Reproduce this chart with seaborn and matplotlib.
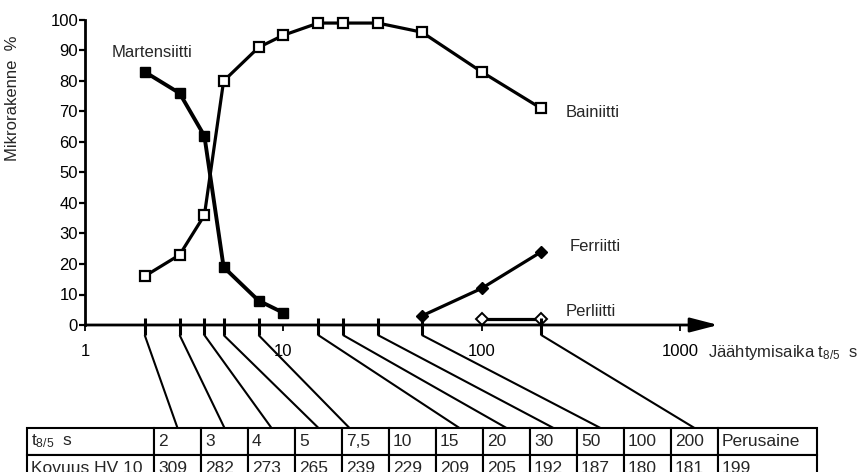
import matplotlib
matplotlib.use("Agg")
import matplotlib.pyplot as plt
import seaborn as sns

# Microstructure fractions (%) versus cooling time t8/5 (s)
t_mart = [2, 3, 4, 5, 7.5, 10]
martensiitti = [83, 76, 62, 19, 8, 4]
t_bain = [2, 3, 4, 5, 7.5, 10, 15, 20, 30, 50, 100, 200]
bainiitti = [16, 23, 36, 80, 91, 95, 99, 99, 99, 96, 83, 71]
t_ferr = [50, 100, 200]
ferriitti = [3, 12, 24]
t_perl = [100, 200]
perliitti = [2, 2]

# Hardness table
t_table = [2, 3, 4, 5, 7.5, 10, 15, 20, 30, 50, 100, 200]
t_labels = ["2", "3", "4", "5", "7,5", "10", "15", "20", "30", "50", "100", "200"]
kovuus = [309, 282, 273, 265, 239, 229, 209, 205, 192, 187, 180, 181]
perusaine = 199

x_ticks = [1, 10, 100, 1000]
x_ticklabels = ["1", "10", "100", "1000"]
y_ticks = [0, 10, 20, 30, 40, 50, 60, 70, 80, 90, 100]

sns.set_style("white")
plt.rcParams["font.family"] = ["Liberation Sans", "DejaVu Sans"]
plt.rcParams["mathtext.fontset"] = "custom"
plt.rcParams["mathtext.rm"] = "Liberation Sans"
plt.rcParams["mathtext.it"] = "Liberation Sans:italic"
plt.rcParams["mathtext.bf"] = "Liberation Sans:bold"

W, H = 864, 472
fig = plt.figure(figsize=(W / 100, H / 100), dpi=100)
ax = fig.add_axes([85 / W, (H - 325) / H, 630 / W, 305 / H])

line_kw = dict(ax=ax, color="black", clip_on=False, markeredgecolor="black")
sns.lineplot(x=t_bain, y=bainiitti, lw=2.3, marker="s", markersize=7,
             markerfacecolor="white", markeredgewidth=1.6, **line_kw)
sns.lineplot(x=t_mart, y=martensiitti, lw=2.8, marker="s", markersize=7.5,
             markerfacecolor="black", markeredgewidth=1.0, **line_kw)
sns.lineplot(x=t_ferr, y=ferriitti, lw=2.3, marker="D", markersize=6.5,
             markerfacecolor="black", markeredgewidth=1.0, **line_kw)
sns.lineplot(x=t_perl, y=perliitti, lw=2.3, marker="D", markersize=6.5,
             markerfacecolor="white", markeredgewidth=1.4, **line_kw)

ax.set_xscale("log")
ax.set_xlim(1, 1503)
ax.set_ylim(0, 100)
ax.set_xticks(x_ticks)
ax.set_xticklabels(x_ticklabels)
ax.set_xticks([], minor=True)
ax.set_yticks(y_ticks)
ax.tick_params(axis="y", direction="out", length=4, width=1.6, labelsize=12, pad=1,
               left=True, colors="black")
ax.tick_params(axis="x", direction="out", length=4, width=1.3, labelsize=12, pad=10,
               bottom=True, colors="black")
for side in ("top", "right", "bottom"):
    ax.spines[side].set_visible(False)
ax.spines["left"].set_linewidth(2)
ax.spines["left"].set_color("black")
ax.patch.set_alpha(0)

# Time axis drawn as an arrow
ax.annotate("", xy=(1560, 0), xytext=(1, 0), xycoords="data", annotation_clip=False,
            arrowprops=dict(arrowstyle="-|>,head_length=0.85,head_width=0.22", color="black",
                            lw=2, shrinkA=0, shrinkB=0, mutation_scale=20))
ax.annotate("Jäähtymisaika t$_{\\mathrm{8/5}}$  s", xy=(1000, 0), xycoords="data",
            xytext=(28, -27), textcoords="offset pixels", ha="left", va="center",
            fontsize=12, annotation_clip=False)

ax.set_xlabel("")
ax.set_ylabel("Mikrorakenne  %", fontsize=12)
ax.yaxis.set_label_coords(-0.103, 0.744)

ax.text(1.37, 89.5, "Martensiitti", ha="left", va="center", fontsize=12)
ax.text(266, 69.8, "Bainiitti", ha="left", va="center", fontsize=12)
ax.text(279, 25.6, "Ferriitti", ha="left", va="center", fontsize=12)
ax.text(266, 4.3, "Perliitti", ha="left", va="center", fontsize=12)

# Hardness table below the chart (overlay axes in pixel units, y downwards)
col_px = [127] + [47] * 12 + [99]
left_px, top_px, row_px = 27, 428, 27
tax = fig.add_axes([0, 0, 1, 1])
tax.set_xlim(0, W)
tax.set_ylim(H, 0)
tax.axis("off")
tax.patch.set_alpha(0)

cell_text = [["t$_{\\mathrm{8/5}}$  s"] + t_labels + ["Perusaine"],
             ["Kovuus HV 10"] + [str(v) for v in kovuus] + [str(perusaine)]]
tab = tax.table(cellText=cell_text, colWidths=[w / sum(col_px) for w in col_px],
                cellLoc="left",
                bbox=[left_px / W, (H - top_px - 2 * row_px) / H,
                      sum(col_px) / W, 2 * row_px / H])
tab.auto_set_font_size(False)
tab.set_fontsize(12.5)
for (r, c), cell in tab.get_celld().items():
    cell.set_linewidth(1.5)
    cell.set_edgecolor("black")
    cell.PAD = 4 / col_px[c]

# Marks on the time axis linked to their table columns
link_offset = {7.5: -16}
to_tax = tax.transData.inverted()
for j, t in enumerate(t_table):
    if t in x_ticks:
        continue
    ax.plot([t, t], [2.3, -3.3], color="black", lw=2.2, clip_on=False,
            solid_capstyle="butt")
    x0, y0 = to_tax.transform(ax.transData.transform((t, -3.3)))
    center = left_px + sum(col_px[:j + 1]) + col_px[j + 1] / 2 + link_offset.get(t, 0)
    tax.plot([x0, center], [y0, top_px], color="black", lw=1.5, clip_on=False,
             solid_capstyle="butt")

fig.savefig("out.png", dpi=100)
